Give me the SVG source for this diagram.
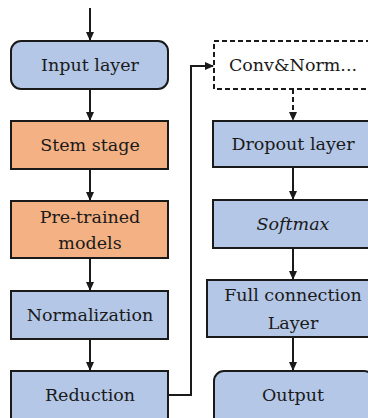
<svg xmlns="http://www.w3.org/2000/svg" width="368" height="418" viewBox="0 0 368 418">
<style>
.b{fill:#B4C7E7;stroke:#1a1a1a;stroke-width:2}
.o{fill:#F4B183;stroke:#1a1a1a;stroke-width:2}
.d{fill:#fff;stroke:#1a1a1a;stroke-width:2;stroke-dasharray:5 3}
.t{font-family:'DejaVu Serif',serif;font-size:17.5px;fill:#1a1a1a;text-anchor:middle}
.c{fill:none;stroke:#1a1a1a;stroke-width:2}
</style>
<defs>
<marker id="ah" markerWidth="10" markerHeight="10" refX="8" refY="5" orient="auto" markerUnits="userSpaceOnUse">
<path d="M0,1 L9,5 L0,9 Z" fill="#1a1a1a"/>
</marker>
</defs>
<rect width="368" height="418" fill="#fff"/>
<g id="connectors">
<path class="c" d="M90,8 V40" marker-end="url(#ah)"/>
<path class="c" d="M90,89 V120" marker-end="url(#ah)"/>
<path class="c" d="M90,169 V200" marker-end="url(#ah)"/>
<path class="c" d="M90,258 V290" marker-end="url(#ah)"/>
<path class="c" d="M90,339 V370" marker-end="url(#ah)"/>
<path class="c" d="M169,395 H191 V66 H213" marker-end="url(#ah)"/>
<path class="c" d="M293,89 V120" stroke-dasharray="5 3" marker-end="url(#ah)"/>
<path class="c" d="M293,167 V199" marker-end="url(#ah)"/>
<path class="c" d="M293,248 V279" marker-end="url(#ah)"/>
<path class="c" d="M293,337 V370" marker-end="url(#ah)"/>
</g>
<g id="input"><rect class="b" x="11" y="41" width="157" height="48" rx="10"/><text class="t" x="90" y="71">Input layer</text></g>
<g id="stem"><rect class="o" x="11" y="121" width="157" height="48"/><text class="t" x="90" y="151">Stem stage</text></g>
<g id="pretrained"><rect class="o" x="11" y="201" width="157" height="57"/><text class="t" x="90" y="223">Pre-trained</text><text class="t" x="90" y="249">models</text></g>
<g id="normalization"><rect class="b" x="11" y="291" width="157" height="48"/><text class="t" x="90" y="321">Normalization</text></g>
<g id="reduction"><rect class="b" x="11" y="371" width="157" height="60"/><text class="t" x="90" y="401">Reduction</text></g>
<g id="convnorm"><rect class="d" x="214" y="41" width="160" height="48"/><text class="t" x="293" y="71">Conv&amp;Norm...</text></g>
<g id="dropout"><rect class="b" x="213" y="121" width="161" height="46"/><text class="t" x="293" y="150">Dropout layer</text></g>
<g id="softmax"><rect class="b" x="213" y="200" width="161" height="48"/><text class="t" x="293" y="230" font-style="italic">Softmax</text></g>
<g id="fullconnection"><rect class="b" x="207" y="280" width="172" height="57"/><text class="t" x="293" y="301">Full connection</text><text class="t" x="293" y="329">Layer</text></g>
<g id="output"><rect class="b" x="214" y="371" width="160" height="60" rx="10"/><text class="t" x="293" y="401">Output</text></g>
</svg>
